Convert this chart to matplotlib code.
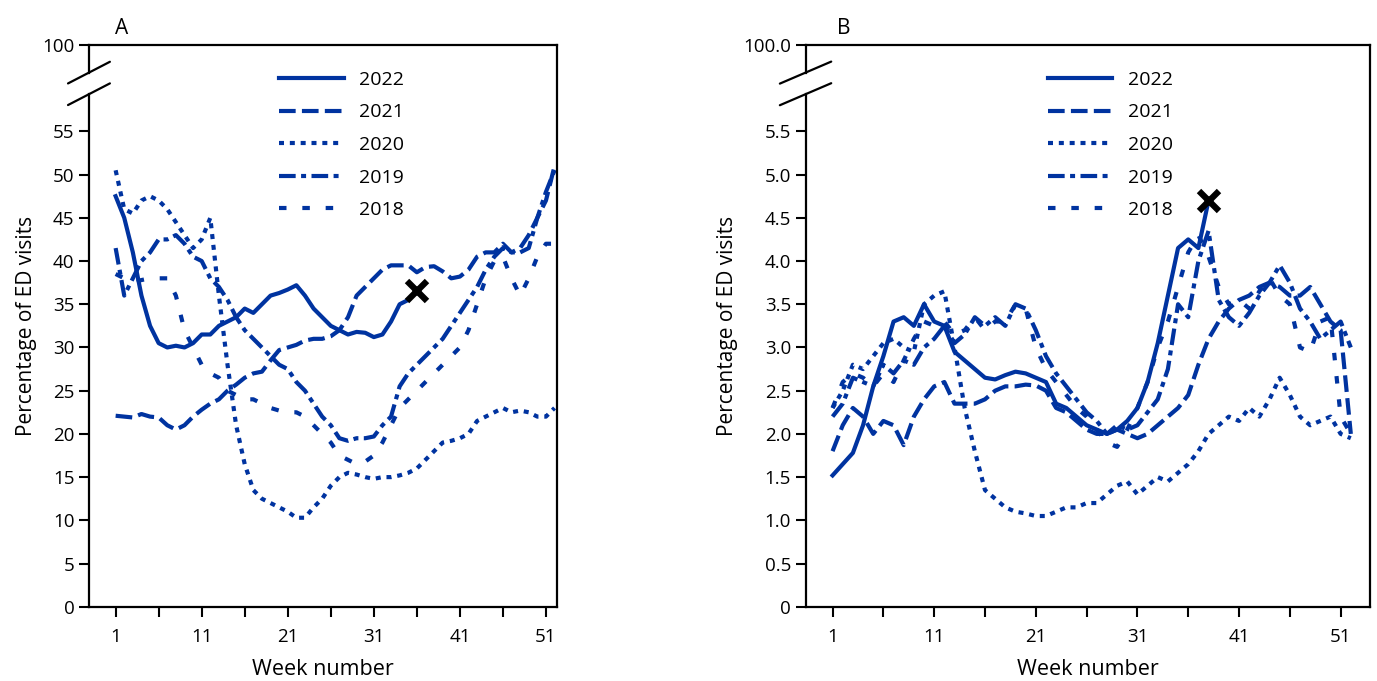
import numpy as np
import matplotlib.pyplot as plt

weeks = np.arange(1, 53)

a_2022 = [47.5, 45, 41, 36, 32.5, 30.5, 30, 30.2, 30, 30.5, 31.5, 31.5, 32.5, 33, 33.5, 34.5, 34,
          35, 36, 36.3, 36.7, 37.2, 36, 34.5, 33.5, 32.5, 32, 31.5, 31.8, 31.7, 31.2, 31.5, 33, 35,
          35.5, 36.5]
a_2021 = [22.1, 22, 21.9, 22.3, 22, 21.9, 21, 20.5, 21, 22, 22.8, 23.5, 24, 25, 25.7, 26.5, 27,
          27.2, 28.5, 29.7, 30, 30.3, 30.8, 31, 31, 31.3, 32, 33.5, 36, 37, 38, 39, 39.5, 39.5,
          39.5, 38.7, 39.3, 39.4, 38.8, 38, 38.2, 39, 40.5, 41, 41, 42, 41, 41.5, 43, 45, 47, 51]
a_2020 = [50.5, 46, 45.5, 47, 47.5, 47, 46, 44.5, 43, 41.5, 42.5, 45, 36, 28, 21, 16.5, 13.5,
          12.5, 12, 11.5, 11, 10.3, 10.3, 11.5, 12.5, 14, 15, 15.5, 15.3, 15, 14.8, 15, 15, 15.2,
          15.5, 16, 17, 18, 19, 19.2, 19.5, 20, 21.5, 22, 22.5, 23, 22.5, 22.7, 22.5, 22, 22, 23]
a_2019 = [41.5, 36, 38, 40, 41, 42.5, 42.5, 43, 42, 40.5, 40, 38, 37, 35.5, 33.5, 32, 31, 30, 29,
          28, 27.5, 26, 25, 23.5, 22, 21, 19.5, 19.2, 19.5, 19.5, 19.7, 21, 22, 25.5, 27, 28, 29,
          30, 31, 32.5, 34, 35.5, 37, 39, 40.5, 41.5, 41, 41, 41.5, 45, 48, 50.5]
a_2018 = [38.5, 38, 37.5, 37.8, 38, 38, 38, 36, 32, 30, 28, 27, 26.5, 25, 24.5, 24, 24, 23.5, 23,
          22.7, 22.5, 22.5, 22, 21, 20, 19, 17.5, 17, 16.5, 16.8, 17.5, 19, 21, 23, 24, 25, 26, 27,
          28, 29, 30, 32, 35, 38, 40, 40.5, 38, 36, 38, 40.5, 42, 42]

b_2022 = [1.52, 1.65, 1.78, 2.1, 2.55, 2.9, 3.3, 3.35, 3.25, 3.5, 3.3, 3.25, 2.95, 2.85, 2.75,
          2.65, 2.63, 2.68, 2.72, 2.7, 2.65, 2.6, 2.35, 2.3, 2.2, 2.1, 2.05, 2.0, 2.05, 2.15, 2.3,
          2.6, 3.05, 3.6, 4.15, 4.25, 4.15, 4.7]
b_2021 = [1.8, 2.1, 2.3, 2.2, 2.0, 2.15, 2.1, 1.87, 2.2, 2.4, 2.55, 2.6, 2.35, 2.35, 2.35, 2.4,
          2.5, 2.55, 2.55, 2.57, 2.56, 2.5, 2.3, 2.25, 2.15, 2.05, 2.0, 2.0, 2.05, 2.0, 1.95, 2.0,
          2.1, 2.2, 2.3, 2.45, 2.8, 3.1, 3.3, 3.45, 3.55, 3.6, 3.7, 3.75, 3.7, 3.6, 3.6, 3.7, 3.5,
          3.3, 3.2, 2.0]
b_2020 = [2.3, 2.5, 2.8, 2.75, 2.9, 3.05, 3.1, 3.0, 2.95, 3.5, 3.6, 3.65, 3.0, 2.3, 1.8, 1.35,
          1.25, 1.15, 1.1, 1.08, 1.05, 1.05, 1.1, 1.15, 1.15, 1.2, 1.2, 1.3, 1.4, 1.45, 1.3, 1.4,
          1.5, 1.45, 1.55, 1.65, 1.8, 2.0, 2.1, 2.2, 2.15, 2.3, 2.2, 2.4, 2.65, 2.45, 2.2, 2.1,
          2.15, 2.2, 2.0, 1.95]
b_2019 = [2.2, 2.35, 2.65, 2.6, 2.55, 2.8, 2.7, 2.85, 2.8, 3.0, 3.1, 3.25, 3.05, 3.15, 3.35, 3.25,
          3.35, 3.25, 3.5, 3.45, 3.2, 2.9, 2.7, 2.55, 2.4, 2.25, 2.15, 2.0, 2.1, 2.05, 2.1, 2.25,
          2.4, 2.75, 3.5, 3.35, 4.0, 4.35, 3.55, 3.35, 3.25, 3.4, 3.6, 3.75, 3.95, 3.75, 3.45, 3.3,
          3.1, 3.2, 3.3, 3.0]
b_2018 = [2.3, 2.6, 2.7, 2.65, 2.55, 2.7, 2.6, 2.85, 3.1, 3.3, 3.25, 3.3, 3.15, 3.2, 3.35, 3.2,
          3.3, 3.3, 3.5, 3.45, 3.0, 2.75, 2.6, 2.45, 2.3, 2.2, 2.05, 1.9, 1.85, 2.05, 2.3, 2.6, 3.0,
          3.3, 3.7, 4.1, 4.3, 4.05, 3.7, 3.5, 3.55, 3.45, 3.65, 3.8, 3.6, 3.5, 3.0, 2.95, 3.3, 3.35,
          2.2, 2.0]

years = ["2022", "2021", "2020", "2019", "2018"]
styles = ["-", (0, (4, 1.5)), (0, (1.2, 1.4)), (0, (4, 1.3, 1.2, 1.3)), (0, (1.8, 3.8))]
BLUE = "#0033a0"

plt.rcParams['font.family'] = ['Open Sans', 'DejaVu Sans']
plt.rcParams['font.size'] = 13

fig = plt.figure(figsize=(13.77, 6.81), dpi=100)


def panel(rect, series, xlim, top, ticks, ticklabels, toplabel, brk, letter):
    ax = fig.add_axes(rect)
    for vals, ls, yr in zip(series, styles, years):
        ax.plot(weeks[:len(vals)], vals, color=BLUE, lw=3.0, ls=ls, label=yr)
    last = series[0]
    ax.plot(len(last), last[-1], marker="x", color="black", ms=15, mew=4.5, zorder=5)
    ax.set_xlim(*xlim)
    ax.set_ylim(0, top)
    ax.set_xticks([1, 11, 21, 31, 41, 51])
    ax.set_xticks(np.arange(1, 53, 5), minor=True)
    ax.set_yticks(list(ticks) + [top])
    ax.set_yticklabels(ticklabels + [toplabel])
    ax.tick_params(which="both", direction="out", length=7, width=1.5, labelsize=13.5)
    ax.tick_params(which="minor", labelbottom=False)
    ax.tick_params(axis="x", pad=8)
    for s in ax.spines.values():
        s.set_linewidth(1.6)
    ax.spines["left"].set_visible(False)
    # left spine with break
    y0, y1 = brk
    ax.plot([0, 0], [0, y0], transform=ax.get_yaxis_transform(), color="black", lw=1.6, clip_on=False)
    ax.plot([0, 0], [y1, top], transform=ax.get_yaxis_transform(), color="black", lw=1.6, clip_on=False)
    span = top / 65.0
    for yb in (y0, y1):
        ax.annotate("", xy=(0.05, yb + 1.4 * span), xytext=(-0.05, yb - 1.4 * span),
                    xycoords=("axes fraction", "data"), textcoords=("axes fraction", "data"),
                    arrowprops=dict(arrowstyle="-", lw=1.6, color="black"))
    ax.set_xlabel("Week number", fontsize=15.5, labelpad=10)
    ax.set_ylabel("Percentage of ED visits", fontsize=15)
    ax.text(0.055, 1.01, letter, transform=ax.transAxes, fontsize=15, va="bottom")
    ax.legend(loc="upper center", bbox_to_anchor=(0.54, 0.985), frameon=False, fontsize=14,
              handlelength=3.3, labelspacing=0.75, handletextpad=0.8)
    return ax


yt_a = list(range(0, 60, 5))
panel([0.0646, 0.109, 0.34, 0.825], [a_2022, a_2021, a_2020, a_2019, a_2018],
      (-2.1, 52.3), 65, yt_a, [str(v) for v in yt_a], "100", (59.3, 61.8), "A")
yt_b = [i * 0.5 for i in range(12)]
panel([0.585, 0.109, 0.41, 0.825], [b_2022, b_2021, b_2020, b_2019, b_2018],
      (-1.66, 53.9), 6.5, yt_b, ["0"] + [f"{v:.1f}" for v in yt_b[1:]], "100.0", (5.93, 6.18), "B")

fig.savefig("out.png", dpi=100)
